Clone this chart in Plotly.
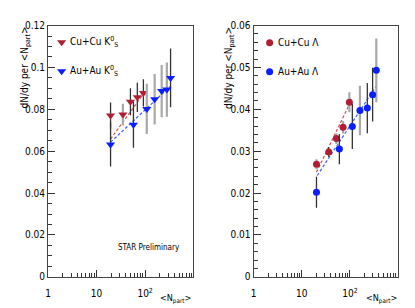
import math
import plotly.graph_objects as go

# ---------------- data ----------------
# Left panel: K0s
cu_k0s_npart = [19.4, 34.8, 49.8, 69.0, 92.0]
cu_k0s_val = [0.0770, 0.0775, 0.0836, 0.0857, 0.0878]
cu_k0s_err = [0.0062, 0.0052, 0.0065, 0.0070, 0.0065]
cu_k0s_grey = [False, True, False, False, False]

au_k0s_npart = [19.4, 57.4, 108.0, 157.0, 219.0, 280.0, 334.0]
au_k0s_val = [0.0632, 0.0726, 0.0802, 0.0848, 0.0887, 0.0894, 0.0950]
au_k0s_err = [0.0105, 0.0110, 0.0120, 0.0120, 0.0125, 0.0130, 0.0140]
au_k0s_grey = [False, False, True, True, True, True, False]

cu_k0s_fit_x = [19.4, 92.0]
cu_k0s_fit_y = [0.0658, 0.0873]
au_k0s_fit_x = [19.4, 334.0]
au_k0s_fit_y = [0.0643, 0.0911]

# Right panel: Lambda
cu_lam_npart = [20.2, 36.3, 52.3, 71.9, 97.2]
cu_lam_val = [0.0269, 0.0298, 0.0330, 0.0357, 0.0417]
cu_lam_err = [0.0012, 0.0012, 0.0013, 0.0015, 0.0024]
cu_lam_grey = [True, False, True, True, True]

au_lam_npart = [20.2, 60.3, 112.0, 161.0, 229.0, 295.0, 352.0]
au_lam_val = [0.0202, 0.0305, 0.0359, 0.0397, 0.0403, 0.0435, 0.0493]
au_lam_err = [0.0037, 0.0036, 0.0054, 0.0059, 0.0060, 0.0064, 0.0076]
au_lam_grey = [False, False, False, True, False, False, True]

cu_lam_fit_x = [20.2, 97.2]
cu_lam_fit_y = [0.0250, 0.0412]
au_lam_fit_x = [21.0, 352.0]
au_lam_fit_y = [0.0242, 0.0456]

x_tickvals = [1, 10, 100]
x_ticktext = ["1", "10", "10<sup>2</sup>"]
left_y_ticks = [0, 0.02, 0.04, 0.06, 0.08, 0.1, 0.12]
left_y_text = ["0", "0.02", "0.04", "0.06", "0.08", "0.1", "0.12"]
right_y_ticks = [0, 0.01, 0.02, 0.03, 0.04, 0.05, 0.06]
right_y_text = ["0", "0.01", "0.02", "0.03", "0.04", "0.05", "0.06"]

# ---------------- styling / layout ----------------
W, H = 415, 308
RED = "#b01e32"
BLUE = "#0a1eff"
RED_FIT = "#d0505e"
BLUE_FIT = "#4060ff"
BAR_DARK = "#333333"
BAR_GREY = "#a8a8a8"
FONT = "Liberation Sans Narrow, Arial Narrow, DejaVu Sans Condensed, Liberation Sans, sans-serif"

PLOT_TOP, PLOT_BOT = 12.0, 273.5
L_X0, L_X1, L_XMAX = 37.3, 183.3, 2.985
R_X0, R_X1, R_XMAX = 244.3, 390.0, 3.0
L_YMAX, R_YMAX = 0.12, 0.06

minor_x = [m * 10 ** d for d in range(3) for m in range(2, 10)]

fig = go.Figure()


def add_series(xs, ys, errs, greys, color, symbol, xa, ya, size):
    for is_grey, col, thick in [(True, BAR_GREY, 2.2), (False, BAR_DARK, 1.3)]:
        sx = [x for x, g in zip(xs, greys) if g == is_grey]
        sy = [y for y, g in zip(ys, greys) if g == is_grey]
        se = [e for e, g in zip(errs, greys) if g == is_grey]
        if not sx:
            continue
        fig.add_trace(go.Scatter(
            x=sx, y=sy, mode="markers", xaxis=xa, yaxis=ya,
            marker=dict(size=2, opacity=0),
            error_y=dict(type="data", array=se, visible=True,
                         color=col, thickness=thick, width=0),
            showlegend=False, hoverinfo="skip"))
    fig.add_trace(go.Scatter(
        x=xs, y=ys, mode="markers", xaxis=xa, yaxis=ya,
        marker=dict(symbol=symbol, size=size, color=color, line=dict(width=0)),
        showlegend=False))


def add_fit(xs, ys, color, xa, ya):
    fig.add_trace(go.Scatter(
        x=xs, y=ys, mode="lines", xaxis=xa, yaxis=ya,
        line=dict(color=color, width=1.2, dash="3px,2px"),
        showlegend=False, hoverinfo="skip"))


add_fit(cu_k0s_fit_x, cu_k0s_fit_y, RED_FIT, "x", "y")
add_fit(au_k0s_fit_x, au_k0s_fit_y, BLUE_FIT, "x", "y")
add_series(cu_k0s_npart, cu_k0s_val, cu_k0s_err, cu_k0s_grey, RED, "triangle-down", "x", "y", 8)
add_series(au_k0s_npart, au_k0s_val, au_k0s_err, au_k0s_grey, BLUE, "triangle-down", "x", "y", 8)

add_fit(cu_lam_fit_x, cu_lam_fit_y, RED_FIT, "x2", "y2")
add_fit(au_lam_fit_x, au_lam_fit_y, BLUE_FIT, "x2", "y2")
add_series(cu_lam_npart, cu_lam_val, cu_lam_err, cu_lam_grey, RED, "circle", "x2", "y2", 7)
add_series(au_lam_npart, au_lam_val, au_lam_err, au_lam_grey, BLUE, "circle", "x2", "y2", 7)


def px_to_data(px, py, x0, x1, xmax, ymax):
    lx = (px - x0) / (x1 - x0) * xmax
    vy = (PLOT_BOT - py) / (PLOT_BOT - PLOT_TOP) * ymax
    return 10 ** lx, vy


# legend entries (key marker drawn in the panel, label as annotation)
legend_items = [
    ("L", 51, 29.5, RED, "triangle-down", 8, "Cu+Cu K<sup>0</sup><sub>S</sub>"),
    ("L", 51, 59.5, BLUE, "triangle-down", 8, "Au+Au K<sup>0</sup><sub>S</sub>"),
    ("R", 260.5, 30, RED, "circle", 7, "Cu+Cu Λ"),
    ("R", 260.5, 60, BLUE, "circle", 7, "Au+Au Λ"),
]
annotations = []
for side, lx, ly, col, sym, sz, txt in legend_items:
    if side == "L":
        dx, dy = px_to_data(lx, ly, L_X0, L_X1, L_XMAX, L_YMAX)
        xa, ya = "x", "y"
    else:
        dx, dy = px_to_data(lx, ly, R_X0, R_X1, R_XMAX, R_YMAX)
        xa, ya = "x2", "y2"
    fig.add_trace(go.Scatter(
        x=[dx], y=[dy], mode="markers", xaxis=xa, yaxis=ya,
        marker=dict(symbol=sym, size=sz, color=col, line=dict(width=0)),
        showlegend=False, hoverinfo="skip"))
    annotations.append(dict(
        x=(lx + 6) / W, y=1 - ly / H, xref="paper", yref="paper",
        text=txt, showarrow=False, xanchor="left", yanchor="middle",
        font=dict(family=FONT, size=10, color="black")))

ytitle = "dN/dy per &lt;N<sub>part</sub>&gt;"
for px in (15, 220):
    annotations.append(dict(
        x=px / W, y=1 - 11 / H, xref="paper", yref="paper",
        text=ytitle, textangle=-90, showarrow=False,
        xanchor="center", yanchor="top",
        font=dict(family=FONT, size=10, color="black")))

for px in (183.5, 390.5):
    annotations.append(dict(
        x=px / W, y=1 - 297 / H, xref="paper", yref="paper",
        text="&lt;N<sub>part</sub>&gt;", showarrow=False,
        xanchor="right", yanchor="middle",
        font=dict(family=FONT, size=9, color="black")))

annotations.append(dict(
    x=139 / W, y=1 - 243 / H, xref="paper", yref="paper",
    text="STAR Preliminary", showarrow=False,
    xanchor="center", yanchor="middle",
    font=dict(family=FONT, size=8, color="black")))

ydom = [(H - PLOT_BOT) / H, (H - PLOT_TOP) / H]

common_x = dict(
    type="log", tickmode="array", tickvals=x_tickvals, ticktext=x_ticktext,
    ticks="inside", ticklen=7, tickwidth=1, tickcolor="#333",
    minor=dict(ticks="inside", ticklen=4, tickcolor="#333", tickmode="array",
               tickvals=minor_x, showgrid=False),
    showline=True, linecolor="#444", linewidth=1, mirror=True,
    showgrid=False, zeroline=False, ticklabelstandoff=7,
    tickfont=dict(family=FONT, size=10, color="black"),
)
common_y = dict(
    ticks="inside", ticklen=7, tickwidth=1, tickcolor="#333",
    showline=True, linecolor="#444", linewidth=1, mirror=True,
    showgrid=False, zeroline=False, tickmode="array",
    tickfont=dict(family=FONT, size=10, color="black"),
)

fig.update_layout(
    width=W, height=H,
    margin=dict(l=0, r=0, t=0, b=0),
    paper_bgcolor="white", plot_bgcolor="white",
    showlegend=False,
    xaxis=dict(domain=[L_X0 / W, L_X1 / W], range=[0, L_XMAX], anchor="y", **common_x),
    yaxis=dict(domain=ydom, range=[0, L_YMAX], anchor="x",
               tickvals=left_y_ticks, ticktext=left_y_text,
               minor=dict(ticks="inside", ticklen=4, tickcolor="#333", dtick=0.005, showgrid=False),
               **common_y),
    xaxis2=dict(domain=[R_X0 / W, R_X1 / W], range=[0, R_XMAX], anchor="y2", **common_x),
    yaxis2=dict(domain=ydom, range=[0, R_YMAX], anchor="x2",
                tickvals=right_y_ticks, ticktext=right_y_text,
                minor=dict(ticks="inside", ticklen=4, tickcolor="#333", dtick=0.002, showgrid=False),
                **common_y),
    annotations=annotations,
)

fig.write_html("out.html")
